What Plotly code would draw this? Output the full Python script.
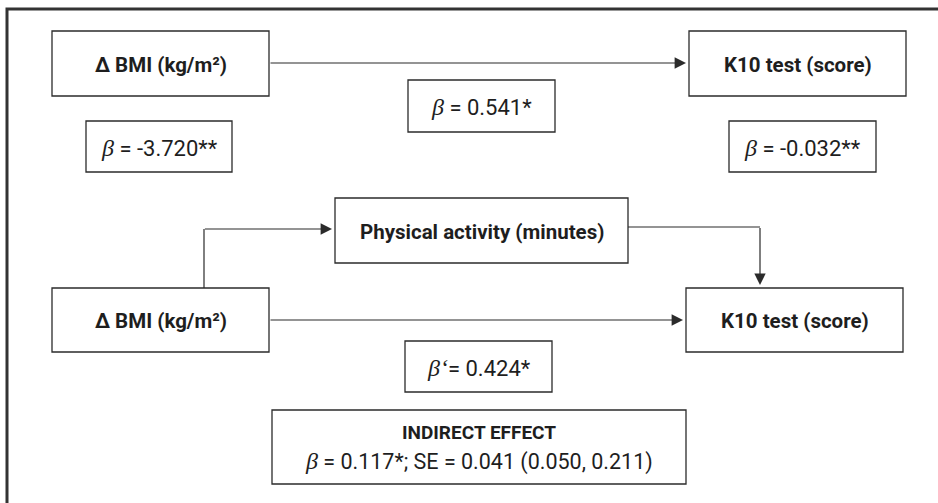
import plotly.graph_objects as go

# ---- content (data) ----
node_labels = ["Δ BMI (kg/m²)", "K10 test (score)", "Physical activity (minutes)",
               "Δ BMI (kg/m²)", "K10 test (score)"]
coef_symbols = ["β", "β", "β", "β‘"]
coef_values = ["-3.720**", "0.541*", "-0.032**", "0.424*"]
indirect_title = "INDIRECT EFFECT"
indirect_beta = "0.117*"
indirect_se = "0.041"
indirect_ci = "(0.050, 0.211)"

# ---- layout geometry (pixels, y downwards) ----
W, H = 938, 503
node_boxes = [(52, 31, 269, 96), (689, 31, 906, 96), (335, 198, 628, 263),
              (52, 288, 269, 352), (686, 288, 903, 352)]
coef_boxes = [(86, 121, 232, 172), (408, 80, 555, 132), (729, 121, 876, 172),
              (405, 341, 552, 392)]
indirect_box = (272, 410, 686, 484)

FONT = "Roboto"
LINE = "#2b2b2b"
TXT = "#1e1e1e"

fig = go.Figure()
fig.add_trace(go.Scatter(x=[0, W], y=[0, H], mode="markers",
                         marker=dict(opacity=0), hoverinfo="skip", showlegend=False))

shapes = []
annotations = []

# outer frame (top + left visible, rest off-canvas)
shapes.append(dict(type="rect", x0=7, y0=9, x1=W + 20, y1=H + 20,
                   line=dict(color="#333333", width=3)))

def box(b, w=1.3):
    shapes.append(dict(type="rect", x0=b[0], y0=b[1], x1=b[2], y1=b[3],
                       line=dict(color=LINE, width=w), fillcolor="white"))

for b, lab in zip(node_boxes, node_labels):
    box(b)
    annotations.append(dict(x=(b[0] + b[2]) / 2, y=(b[1] + b[3]) / 2 + 1,
                            text="<b>" + lab + "</b>", showarrow=False,
                            font=dict(family=FONT, size=20.5, color=TXT)))

def beta_text(sym, val):
    return ("<span style='font-family:Liberation Serif;font-size:24px'><i>" + sym + "</i></span>"
            + (" " if sym == "β" else "") + "= " + val)

for b, s, v in zip(coef_boxes, coef_symbols, coef_values):
    box(b)
    annotations.append(dict(x=(b[0] + b[2]) / 2, y=(b[1] + b[3]) / 2 + 1,
                            text=beta_text(s, v), showarrow=False,
                            font=dict(family=FONT, size=22, color=TXT)))

box(indirect_box)
ib = indirect_box
cx = (ib[0] + ib[2]) / 2
annotations.append(dict(x=cx, y=432, text="<b>" + indirect_title + "</b>", showarrow=False,
                        font=dict(family=FONT, size=19, color=TXT)))
annotations.append(dict(x=cx, y=461,
                        text=beta_text("β", indirect_beta) + "; SE = " + indirect_se + " " + indirect_ci,
                        showarrow=False, font=dict(family=FONT, size=21.5, color=TXT)))

def arrow(x0, y0, x1, y1):
    annotations.append(dict(x=x1, y=y1, ax=x0, ay=y0, xref="x", yref="y",
                            axref="x", ayref="y", showarrow=True, text="",
                            arrowhead=2, arrowsize=1.9, arrowwidth=1.2,
                            arrowcolor=LINE, standoff=0))

# top: BMI -> K10
arrow(269, 63, 686, 63)
# bottom: BMI -> K10 direct
arrow(269, 320, 683, 320)
# BMI -> PA (elbow)
shapes.append(dict(type="path", path="M 204 288 L 204 229",
                   line=dict(color=LINE, width=1.2)))
arrow(203.4, 229, 332, 229)
# PA -> K10 (elbow)
shapes.append(dict(type="path", path="M 628 227 L 760 227",
                   line=dict(color=LINE, width=1.2)))
arrow(760, 226.4, 760, 285)

fig.update_layout(
    width=W, height=H, margin=dict(l=0, r=0, t=0, b=0),
    paper_bgcolor="white", plot_bgcolor="white",
    xaxis=dict(range=[0, W], visible=False, fixedrange=True),
    yaxis=dict(range=[H, 0], visible=False, fixedrange=True),
    shapes=shapes, annotations=annotations, showlegend=False,
)
fig.write_html("out.html", config={"displayModeBar": False},
               post_script="document.body.style.margin='0px';document.body.style.overflow='hidden';")
